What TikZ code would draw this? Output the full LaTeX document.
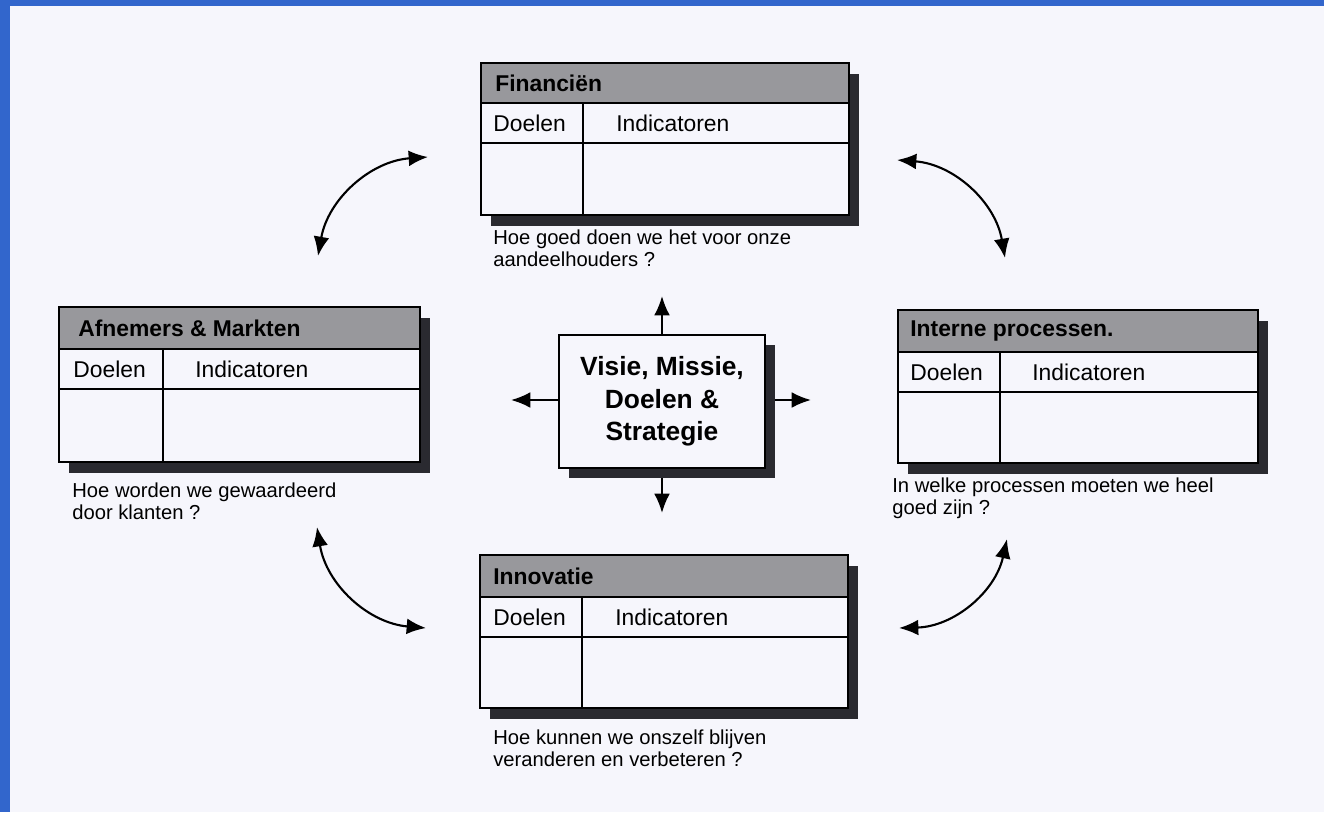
\documentclass[tikz,border=0pt]{standalone}
\usepackage{fontspec}
\setmainfont{Liberation Sans}
\usetikzlibrary{arrows.meta}

\definecolor{frameblue}{RGB}{50,102,204}
\definecolor{paper}{RGB}{246,246,252}
\definecolor{headgray}{RGB}{152,152,156}
\definecolor{shadowgray}{RGB}{42,42,48}

\tikzset{
  card/.style={fill=paper,draw=black,line width=1.1pt},
  head/.style={fill=headgray,draw=black,line width=1.1pt},
  rule/.style={line width=1.1pt},
  shade/.style={fill=shadowgray},
  ttl/.style={anchor=west,inner sep=0pt,font=\bfseries\fontsize{13}{15}\selectfont},
  cell/.style={anchor=west,inner sep=0pt,font=\fontsize{13}{15}\selectfont},
  note/.style={anchor=north west,inner sep=0pt,align=left,font=\fontsize{11.5}{12.8}\selectfont},
  arr/.style={-{Latex[length=11pt,width=9pt]},line width=1.2pt},
  swing/.style={{Latex[length=11pt,width=9pt]}-{Latex[length=11pt,width=9pt]},line width=1.2pt},
}

\begin{document}
\begin{tikzpicture}
\useasboundingbox (0,0) rectangle (26.48,-16.24);
\fill [paper] (0,0) rectangle (26.48,-16.24);
\fill [frameblue] (0,0) rectangle (0.2,-16.24);
\fill [frameblue] (0,0) rectangle (26.48,-0.12);

% Financien
\fill [shade] (9.82,-1.48) rectangle (17.18,-4.52);
\draw [card] (9.62,-1.26) rectangle (16.98,-4.30);
\draw [head] (9.62,-1.26) rectangle (16.98,-2.06);
\draw [rule] (9.62,-2.86) -- (16.98,-2.86);
\draw [rule] (11.66,-2.06) -- (11.66,-4.30);
\node [ttl] (fin) at (9.90,-1.66) {Financiën};
\node [cell] (finD) at (9.86,-2.46) {Doelen};
\node [cell] (finI) at (12.32,-2.46) {Indicatoren};
\node [note] (finQ) at (9.86,-4.58) {Hoe goed doen we het voor onze\\aandeelhouders ?};

% Afnemers & Markten
\fill [shade] (1.38,-6.36) rectangle (8.60,-9.46);
\draw [card] (1.18,-6.14) rectangle (8.40,-9.24);
\draw [head] (1.18,-6.14) rectangle (8.40,-6.98);
\draw [rule] (1.18,-7.78) -- (8.40,-7.78);
\draw [rule] (3.26,-6.98) -- (3.26,-9.24);
\node [ttl] (afn) at (1.56,-6.56) {Afnemers \& Markten};
\node [cell] (afnD) at (1.46,-7.38) {Doelen};
\node [cell] (afnI) at (3.90,-7.38) {Indicatoren};
\node [note] (afnQ) at (1.44,-9.64) {Hoe worden we gewaardeerd\\door klanten ?};

% Interne processen
\fill [shade] (18.16,-6.42) rectangle (25.36,-9.48);
\draw [card] (17.96,-6.20) rectangle (25.16,-9.26);
\draw [head] (17.96,-6.20) rectangle (25.16,-7.04);
\draw [rule] (17.96,-7.84) -- (25.16,-7.84);
\draw [rule] (20.00,-7.04) -- (20.00,-9.26);
\node [ttl] (int) at (18.20,-6.62) {Interne processen.};
\node [cell] (intD) at (18.20,-7.44) {Doelen};
\node [cell] (intI) at (20.64,-7.44) {Indicatoren};
\node [note] (intQ) at (17.84,-9.54) {In welke processen moeten we heel\\goed zijn ?};

% Innovatie
\fill [shade] (9.80,-11.32) rectangle (17.16,-14.38);
\draw [card] (9.60,-11.10) rectangle (16.96,-14.16);
\draw [head] (9.60,-11.10) rectangle (16.96,-11.94);
\draw [rule] (9.60,-12.74) -- (16.96,-12.74);
\draw [rule] (11.64,-11.94) -- (11.64,-14.16);
\node [ttl] (inn) at (9.86,-11.52) {Innovatie};
\node [cell] (innD) at (9.86,-12.34) {Doelen};
\node [cell] (innI) at (12.30,-12.34) {Indicatoren};
\node [note] (innQ) at (9.86,-14.58) {Hoe kunnen we onszelf blijven\\veranderen en verbeteren ?};

%------------\\

% centre
\fill [shade] (11.38,-6.90) rectangle (15.50,-9.56);
\node [card,minimum width=4.12cm,minimum height=2.66cm,align=center,
  font=\bfseries\fontsize{15}{18.4}\selectfont] (vms) at (13.24,-8.03)
  {Visie, Missie,\\Doelen \&\\Strategie};

\coordinate (up) at (13.24,-5.92);
\coordinate (lt) at (10.22,-8.00);
\coordinate (rt) at (16.22,-8.00);
\coordinate (dn) at (13.24,-10.26);
\draw [arr] (vms.north) -- (up);
\draw [arr] (vms.west |- lt) -- (lt);
\draw [arr] (15.50,-8.00) -- (rt);
\draw [arr] (13.24,-9.56) -- (dn);

% swings
\coordinate (a1) at (8.56,-3.14);
\coordinate (a2) at (6.36,-5.12);
\coordinate (b1) at (17.94,-3.20);
\coordinate (b2) at (20.10,-5.16);
\coordinate (c1) at (6.34,-10.54);
\coordinate (c2) at (8.52,-12.56);
\coordinate (d1) at (20.14,-10.78);
\coordinate (d2) at (17.98,-12.56);
\draw [swing] (a1) to [bend right=38] (a2);
\draw [swing] (b1) to [bend left=38] (b2);
\draw [swing] (c1) to [bend right=38] (c2);
\draw [swing] (d1) to [bend left=38] (d2);
\end{tikzpicture}
\end{document}
